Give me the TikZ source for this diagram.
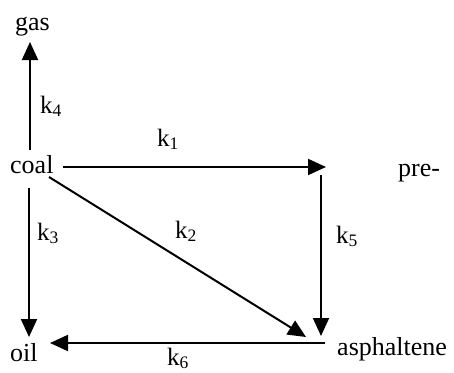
\documentclass[tikz,border=0pt]{standalone}
\usepackage{fontspec}
\setmainfont{Liberation Serif}
\usetikzlibrary{arrows.meta}
\begin{document}
\begin{tikzpicture}[x=1pt,y=-1pt,
  lbl/.style={inner sep=0pt, anchor=base west, font=\fontsize{26}{30}\selectfont},
  klbl/.style={inner sep=0pt, anchor=base west, font=\fontsize{25}{29}\selectfont},
  arr/.style={line width=2pt, -{Triangle[length=18pt,width=16pt]}}]
\useasboundingbox (0,0) rectangle (454,372);
% species
\node[lbl] (gas) at (15,30) {gas};
\node[lbl] (coal) at (10,173) {coal};
\node[lbl] (pre) at (398,176) {pre-};
\node[lbl] (asph) at (337,355) {asphaltene};
\node[lbl] (oil) at (10,361) {oil};
% rate labels
\node[klbl] (k1) at (157,146) {k\textsubscript{1}};
\node[klbl] (k2) at (175,238) {k\textsubscript{2}};
\node[klbl] (k3) at (37,240) {k\textsubscript{3}};
\node[klbl] (k4) at (40,113) {k\textsubscript{4}};
\node[klbl] (k5) at (336,243) {k\textsubscript{5}};
\node[klbl] (k6) at (167,365) {k\textsubscript{6}};
% connector ends
\coordinate (cg) at (30,150);  \coordinate (g)  at (30,42);
\coordinate (c1) at (63,167);  \coordinate (p1) at (326,167);
\coordinate (p2) at (321,175); \coordinate (a2) at (321,336);
\coordinate (c2) at (49,177);  \coordinate (a1) at (306,337);
\coordinate (c3) at (29,188);  \coordinate (o1) at (29,337);
\coordinate (a3) at (325,343); \coordinate (o2) at (50,343);
% connectors
\draw[arr] (cg) -- (g);
\draw[arr] (c1) -- (p1);
\draw[arr] (p2) -- (a2);
\draw[arr] (c2) -- (a1);
\draw[arr] (c3) -- (o1);
\draw[arr] (a3) -- (o2);
\end{tikzpicture}
\end{document}
